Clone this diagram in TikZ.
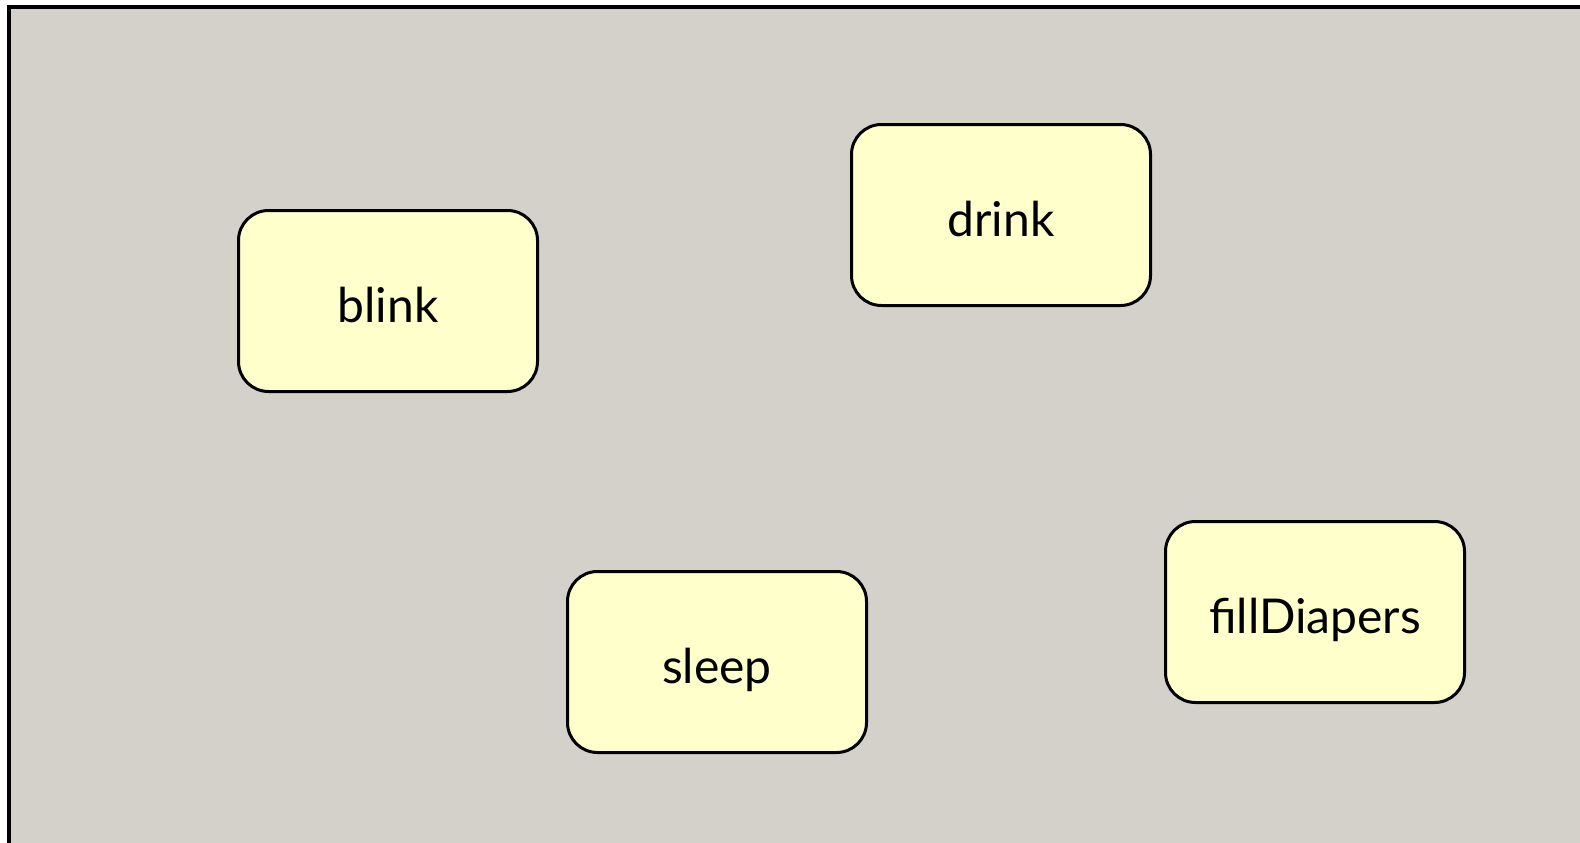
\documentclass[tikz,border=0pt]{standalone}
\usepackage{fontspec}
\setmainfont{Lato}
\usepackage{xcolor}
\usetikzlibrary{calc}
\definecolor{paneback}{RGB}{212,209,202}
\definecolor{stateyellow}{RGB}{255,255,204}

\begin{document}
\begin{tikzpicture}[x=1pt,y=-1pt,
	statebox/.style={draw,fill=stateyellow,line width=3pt,rounded corners=30pt,
		minimum width=299pt,minimum height=181pt,inner sep=0pt,
		text height=42pt,text depth=0pt,
		font=\fontsize{48}{56}\selectfont}]
	\useasboundingbox (0,0) rectangle (1580,843);
	\clip (0,0) rectangle (1580,843);
	\draw[fill=paneback,line width=4pt] (9,7) rectangle (1600,860);
	\node[statebox] (blink)  at (388,301)  {blink};
	\node[statebox] (drink)  at (1001,215) {drink};
	\node[statebox] (sleep)  at (717,662)  {sleep};
	\node[statebox] (fill)   at (1315,612) {fillDiapers};
\end{tikzpicture}
\end{document}
